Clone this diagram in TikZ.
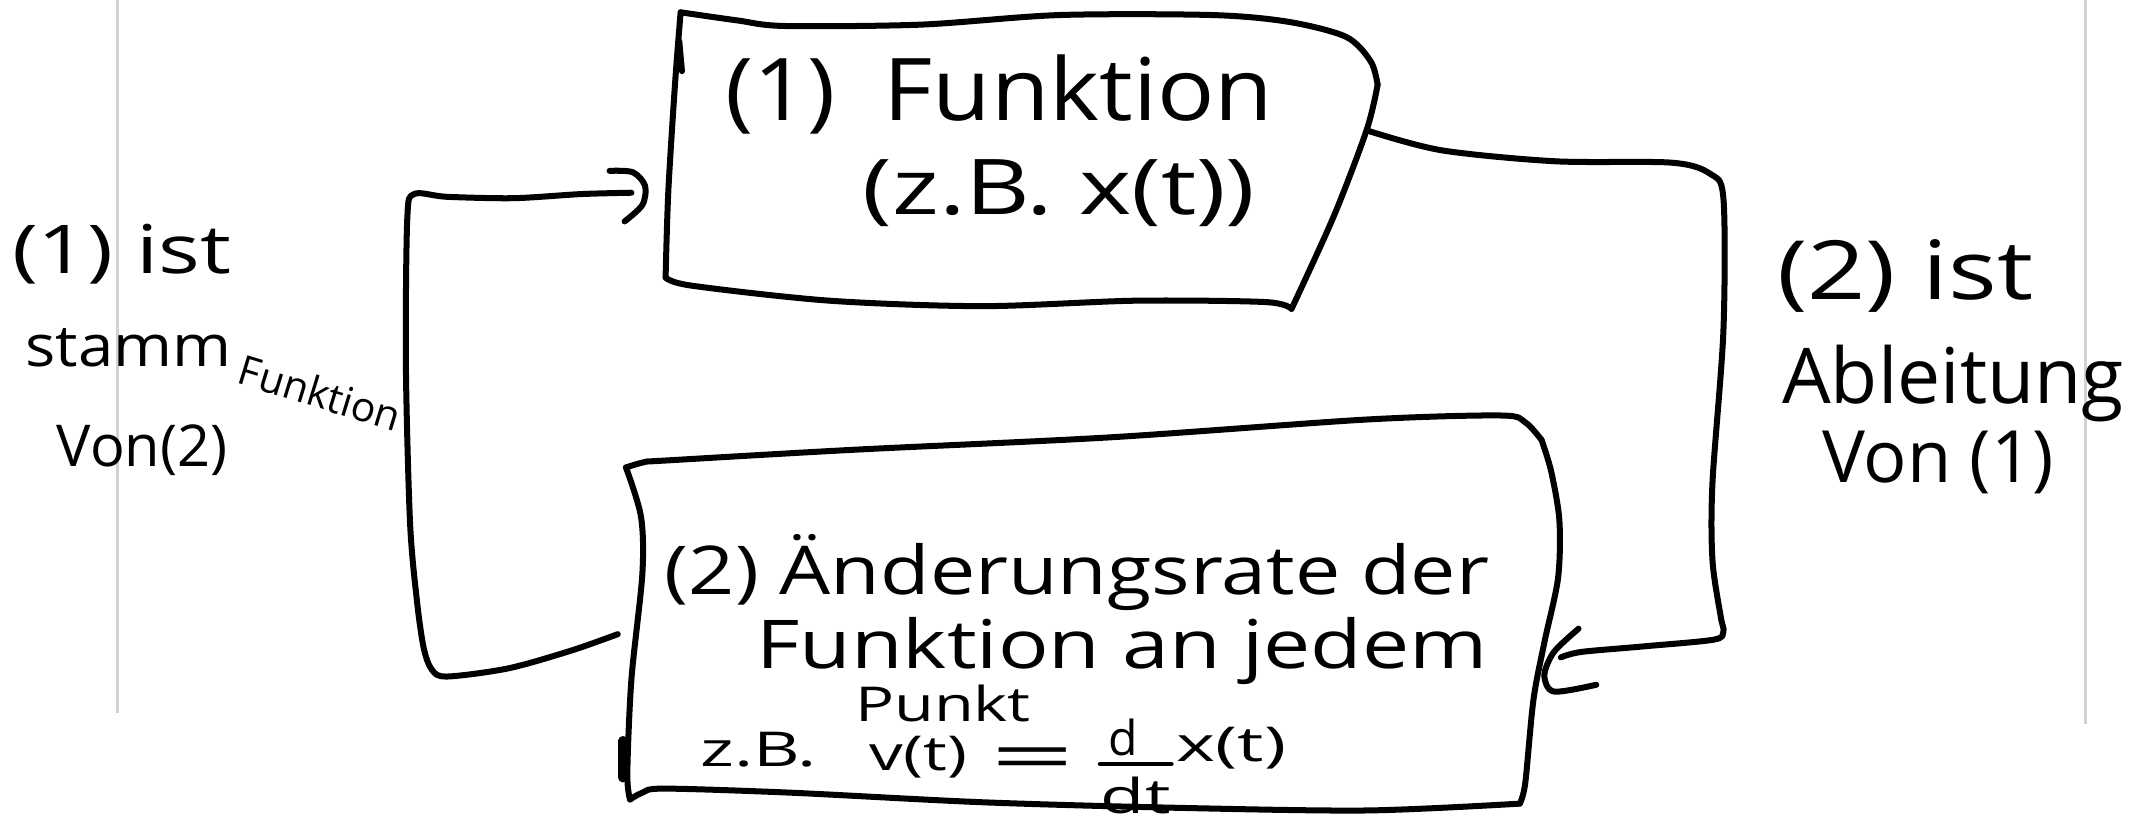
\documentclass[tikz,border=0pt]{standalone}
\usepackage{graphicx}
\usepackage{fontspec}
\setmainfont{Open Sans}
\newcommand\hstretch[2]{\scalebox{#1}[1]{#2}}
\begin{document}
\begin{tikzpicture}[x=0.01cm,y=-0.01cm,
  hand/.style={line width=1.25pt, line cap=round, line join=round},
  rulel/.style={draw=gray!35, line width=0.5pt},
  lbl/.style={inner sep=0pt, anchor=base},
]
\useasboundingbox (0,0) rectangle (1568,599);
% page rules
\draw[rulel] (86,0) -- (86,522);
\draw[rulel] (1526,0) -- (1526,530);

% ---- box (1)
\draw[hand] plot[smooth] coordinates {(498,9) (540,15) (574,19) (674,18) (775,11) (887,11) (943,16) (985,27) (1003,45) (1008,62)};
\draw[hand] plot[smooth] coordinates {(1008,62) (1000,95) (976,158) (945,226)};
\draw[hand] plot[smooth] coordinates {(945,226) (926,221) (831,220) (719,224) (607,220) (506,209) (487,203)};
\draw[hand] plot[smooth] coordinates {(487,203) (489,140) (494,60) (498,9)};
\draw[hand] (497,30) -- (499,52);
\node[lbl, font=\fontsize{18}{20}\selectfont] (f1) at (731,88) {\hstretch{1.1}{(1)\enspace Funktion}};
\node[lbl, font=\fontsize{16}{18}\selectfont] (f1b) at (775,157) {\hstretch{1.3}{(z.B. x(t))}};

% ---- box (2)
\draw[hand] plot[smooth] coordinates {(458,342) (472,338) (486,337) (626,329) (812,320) (999,307) (1098,304) (1116,309) (1128,322)};
\draw[hand] plot[smooth] coordinates {(1128,322) (1135,345) (1141,381) (1140,423) (1130,470) (1122,512) (1116,573) (1112,588)};
\draw[hand] plot[smooth] coordinates {(1112,588) (1000,593) (859,591) (719,587) (579,580) (486,577) (470,580) (461,585)};
\draw[hand] plot[smooth] coordinates {(461,585) (459,566) (462,497) (470,420) (469,378) (458,342)};
\draw[hand, line width=2pt] (456,542) -- (456,569);
\node[lbl, font=\fontsize{14}{16}\selectfont] (f2a) at (788,435) {\hstretch{1.2}{(2) Änderungsrate der}};
\node[lbl, font=\fontsize{14}{16}\selectfont] (f2b) at (821,489) {\hstretch{1.25}{Funktion an jedem}};
\node[lbl, font=\fontsize{10}{12}\selectfont] (f2c) at (690,528) {\hstretch{1.35}{Punkt}};
\node[lbl, font=\fontsize{10}{12}\selectfont] (zb) at (555,561) {\hstretch{1.5}{z.B.}};
\node[lbl, font=\fontsize{10}{12}\selectfont] (vt) at (672,564) {\hstretch{1.4}{v(t)}};
\node[font=\fontsize{14}{16}\selectfont, inner sep=0pt] (eq) at (756,559) {\hstretch{2.2}{=}};
\node[lbl, font=\fontsize{10}{12}\selectfont] (fd) at (822,553) {d};
\node[lbl, font=\fontsize{10}{12}\selectfont] (fdt) at (831,595) {\hstretch{1.5}{dt}};
\draw[hand, line width=1pt] (805,559) -- (857,559);
\node[lbl, font=\fontsize{10}{12}\selectfont] (xt) at (901,557) {\hstretch{1.55}{x(t)}};

% ---- connectors
\coordinate (b1out) at (1002,96);
\coordinate (b2in) at (1142,481);
\coordinate (b2out) at (452,464);
\coordinate (b1in) at (462,141);
\draw[hand] plot[smooth] coordinates {(b2out) (418,476) (372,489) (327,495) (316,490) (310,474) (305,439) (300,382) (297,268) (298,160) (303,142) (327,144) (376,145) (425,142) (b1in)};
\draw[hand] plot[smooth] coordinates {(446,125) (463,126) (472,136) (470,150) (457,162)};
\draw[hand] plot[smooth] coordinates {(b1out) (1055,110) (1138,118) (1223,119) (1251,127) (1261,145) (1261,242) (1253,353) (1253,410) (1259,451) (1261,462) (1254,468) (1202,473) (1157,477) (b2in)};
\draw[hand] plot[smooth] coordinates {(1155,460) (1137,477) (1130,494) (1137,506) (1168,501)};

% ---- side labels
\node[lbl, font=\fontsize{14}{16}\selectfont] (l1) at (89,200) {\hstretch{1.3}{(1) ist}};
\node[lbl, anchor=base west, font=\fontsize{12}{14}\selectfont] (l2a) at (18,268) {\hstretch{1.1}{stamm}};
\node[lbl, anchor=base west, rotate=-17, font=\fontsize{8.5}{10}\selectfont] (l2b) at (172,280) {Funktion};
\node[lbl, font=\fontsize{12}{14}\selectfont] (l3) at (104,341) {Von(2)};
\node[lbl, font=\fontsize{17}{19}\selectfont] (r1) at (1394,219) {\hstretch{1.25}{(2) ist}};
\node[lbl, font=\fontsize{16}{18}\selectfont] (r2) at (1429,295) {Ableitung};
\node[lbl, font=\fontsize{15}{17}\selectfont] (r3) at (1418,353) {Von (1)};
\end{tikzpicture}
\end{document}
